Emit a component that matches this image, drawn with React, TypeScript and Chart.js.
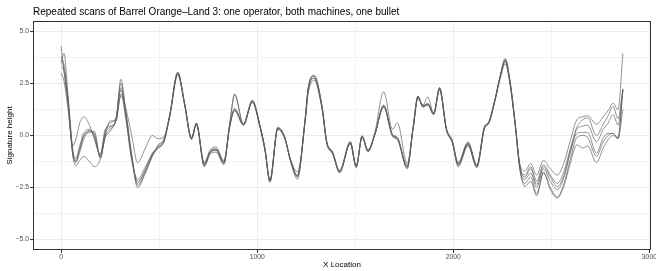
import React, { useEffect, useRef } from "react";
import { Chart, registerables } from "chart.js";

Chart.register(...registerables);

const titleText = "Repeated scans of Barrel Orange–Land 3: one operator, both machines, one bullet";
const xAxisTitle = "X Location";
const yAxisTitle = "Signature height";

const xTicks = [0, 500, 1000, 1500, 2000, 2500, 3000];
const yTicks = [-5, -3.75, -2.5, -1.25, 0, 1.25, 2.5, 3.75, 5];
const xRange = [-143.25, 3008.25];
const yRange = [-5.5, 5.5];

const xLocation = [
  0, 15, 35, 60, 75, 95, 115, 145, 170, 200,
  225, 250, 280, 305, 330, 360, 390, 430, 465, 495,
  525, 555, 595, 630, 665, 690, 730, 760, 790, 830,
  860, 885, 930, 975, 1015, 1040, 1065, 1105, 1140, 1170,
  1205, 1245, 1260, 1290, 1330, 1355, 1385, 1420, 1475, 1505,
  1535, 1565, 1600, 1645, 1690, 1715, 1765, 1795, 1820, 1845,
  1870, 1900, 1930, 1965, 1995, 2025, 2075, 2120, 2160, 2180,
  2210, 2240, 2265, 2290, 2315, 2340, 2365, 2395, 2425, 2460,
  2495, 2530, 2565, 2595, 2630, 2660, 2685, 2730, 2765, 2790,
  2815, 2840, 2865,
];

const scan1 = [
  4.3, 3.0, 1.5, -0.9, -1.3, -0.8, -0.2, 0.25, 0.0, -1.05,
  0.1, 0.4, 0.75, 2.7, 1.2, -0.9, -2.5, -1.8, -1.0, -0.6,
  -0.3, 1.0, 3.05, 1.55, -0.1, 0.6, -1.45, -0.85, -0.7, -1.35,
  0.6, 2.0, 0.55, 1.65, 0.4, -0.7, -2.25, 0.35, -0.1, -1.25,
  -2.1, 0.8, 2.3, 2.9, 1.45, -0.35, -0.85, -1.75, -0.35, -1.5,
  -0.05, -0.75, 0.05, 1.45, 0.0, -0.15, -1.55, 0.35, 1.9, 1.4,
  1.5, 1.0, 2.3, 0.3, -0.3, -1.5, -0.45, -1.55, 0.4, 0.6,
  1.6, 2.9, 3.7, 2.6, 0.6, -1.4, -1.7, -1.35, -1.9, -1.2,
  -1.6, -1.9, -1.3, -0.3, 0.75, 0.9, 0.95, 0.55, 0.9, 1.2,
  1.55, 1.25, 3.95,
];

const scan2 = [
  3.5, 3.95, 2.0, -0.7, -1.1, -0.5, 0.1, 0.3, -0.1, -0.95,
  0.2, 0.6, 0.85, 2.3, 1.0, -1.0, -2.3, -1.6, -0.85, -0.55,
  -0.25, 1.05, 2.95, 1.5, -0.15, 0.55, -1.4, -0.8, -0.65, -1.3,
  0.55, 1.95, 0.5, 1.7, 0.45, -0.65, -2.2, 0.35, -0.1, -1.2,
  -1.95, 0.85, 2.25, 2.85, 1.4, -0.3, -0.8, -1.7, -0.3, -1.45,
  -0.05, -0.7, 0.1, 1.4, 0.05, -0.1, -1.45, 0.4, 1.85, 1.45,
  1.5, 1.1, 2.25, 0.35, -0.25, -1.35, -0.35, -1.45, 0.45, 0.6,
  1.6, 2.85, 3.6, 2.5, 0.65, -1.5, -1.9, -1.5, -2.2, -1.4,
  -1.9, -2.3, -1.7, -0.7, 0.4, 0.75, 0.85, 0.0, 0.55, 0.95,
  1.4, 0.8, 2.25,
];

const scan3 = [
  3.0, 2.6, 1.3, -0.5, -0.2, 0.6, 0.9, 0.5, -0.2, -0.9,
  0.3, 0.45, 0.7, 1.9, 1.3, 0.0, -1.3, -0.6, 0.0, -0.15,
  -0.05, 0.95, 2.9, 1.45, -0.2, 0.5, -1.3, -0.7, -0.55, -1.2,
  0.4, 1.2, 0.5, 1.6, 0.35, -0.75, -2.1, 0.3, -0.15, -1.15,
  -1.75, 0.7, 2.0, 2.65, 1.3, -0.4, -0.9, -1.7, -0.4, -1.45,
  -0.1, -0.8, 0.15, 2.1, 0.3, 0.6, -1.35, 0.3, 1.8, 1.45,
  1.85, 1.05, 2.2, 0.25, -0.35, -1.3, -0.3, -1.4, 0.35, 0.55,
  1.55, 2.75, 3.45, 2.4, 0.55, -1.6, -2.1, -1.8, -2.5, -1.6,
  -2.2, -2.6, -2.0, -0.9, 0.1, 0.15, 0.15, -0.85, -0.1, 0.1,
  0.1, -0.1, 2.2,
];

const scan4 = [
  3.6, 3.2, 1.6, -1.0, -1.45, -1.2, -1.0, -1.25, -1.5, -1.15,
  -0.1, 0.2, 0.8, 2.2, 0.9, -1.1, -2.1, -1.5, -0.9, -0.6,
  -0.3, 1.0, 3.0, 1.5, -0.15, 0.55, -1.5, -0.9, -0.8, -1.4,
  0.45, 1.25, 0.55, 1.65, 0.4, -0.7, -2.2, 0.4, -0.05, -1.2,
  -2.0, 0.8, 2.2, 2.75, 1.4, -0.35, -0.85, -1.8, -0.35, -1.55,
  0.0, -0.75, 0.05, 1.35, -0.05, -0.2, -1.6, 0.35, 1.85, 1.35,
  1.45, 1.0, 2.25, 0.3, -0.3, -1.45, -0.5, -1.5, 0.4, 0.65,
  1.65, 2.85, 3.6, 2.5, 0.6, -1.7, -2.3, -2.0, -2.8, -1.75,
  -2.5, -2.95, -2.3, -1.2, -0.1, 0.0, -0.1, -1.0, -0.3, 0.0,
  0.1, -0.15, 2.2,
];

const scan5 = [
  3.3, 3.1, 1.7, -0.8, -1.2, -0.6, 0.0, 0.2, 0.1, -1.0,
  0.0, 0.7, 0.7, 2.0, 0.8, -1.2, -2.2, -1.7, -0.95, -0.5,
  -0.2, 1.0, 3.0, 1.5, -0.1, 0.55, -1.4, -0.8, -0.7, -1.3,
  0.45, 1.2, 0.5, 1.6, 0.4, -0.7, -2.15, 0.3, -0.1, -1.2,
  -1.9, 0.75, 2.15, 2.75, 1.35, -0.35, -0.85, -1.75, -0.4, -1.5,
  -0.05, -0.7, 0.05, 1.4, 0.0, -0.15, -1.5, 0.3, 1.8, 1.4,
  1.5, 1.05, 2.2, 0.3, -0.3, -1.4, -0.4, -1.5, 0.4, 0.6,
  1.6, 2.85, 3.55, 2.5, 0.6, -1.55, -2.45, -2.2, -2.9, -1.8,
  -2.6, -3.0, -2.4, -1.4, -0.45, -0.6, -0.5, -1.3, -0.6, -0.2,
  0.0, -0.15, 1.25,
];

const scan6 = [
  3.8, 3.4, 1.8, -0.9, -1.25, -0.7, -0.05, 0.15, 0.2, -1.1,
  -0.05, 0.3, 0.75, 2.5, 1.1, -1.0, -2.4, -1.75, -1.0, -0.45,
  -0.15, 1.05, 3.0, 1.55, -0.15, 0.6, -1.35, -0.75, -0.65, -1.25,
  0.5, 1.3, 0.55, 1.65, 0.45, -0.65, -2.2, 0.35, -0.1, -1.15,
  -1.95, 0.8, 2.25, 2.85, 1.45, -0.3, -0.8, -1.7, -0.3, -1.5,
  -0.05, -0.75, 0.05, 1.45, 0.05, -0.1, -1.5, 0.4, 1.9, 1.4,
  1.55, 1.05, 2.3, 0.3, -0.25, -1.35, -0.4, -1.45, 0.45, 0.6,
  1.6, 2.9, 3.65, 2.55, 0.65, -1.5, -2.0, -1.6, -2.35, -1.5,
  -2.0, -2.45, -1.9, -0.8, 0.3, 0.45, 0.5, -0.3, 0.3, 0.6,
  1.0, 0.5, 2.2,
];

const scans = [scan1, scan2, scan3, scan4, scan5, scan6];

const FONT = '"Liberation Sans", Arial, Helvetica, sans-serif';
const isMajorX = (v: number) => Math.abs(v % 1000) < 1e-6;
const isMajorY = (v: number) => Math.abs(v % 2.5) < 1e-6;

const frameAndTitle = {
  id: "frameAndTitle",
  afterDraw(chart: any) {
    const { ctx, chartArea } = chart;
    ctx.save();
    ctx.strokeStyle = "#333333";
    ctx.lineWidth = 1;
    ctx.strokeRect(
      Math.round(chartArea.left) + 0.5,
      Math.round(chartArea.top) + 0.5,
      Math.round(chartArea.right - chartArea.left) - 1,
      Math.round(chartArea.bottom - chartArea.top) - 1
    );
    ctx.fillStyle = "#000000";
    ctx.font = `10px ${FONT}`;
    ctx.textBaseline = "middle";
    ctx.textAlign = "left";
    ctx.fillText(titleText, chartArea.left, 12.5);
    ctx.restore();
  },
};

export default function App() {
  const canvasRef = useRef<HTMLCanvasElement | null>(null);

  useEffect(() => {
    document.body.style.margin = "0";
    const canvas = canvasRef.current;
    if (!canvas) return;
    const chart = new Chart(canvas, {
      type: "line",
      data: {
        datasets: scans.map((s, i) => ({
          label: `scan ${i + 1}`,
          data: xLocation.map((x, j) => ({ x, y: s[j] })),
          borderColor: "rgba(95,95,95,0.68)",
          borderWidth: 1,
          pointRadius: 0,
          cubicInterpolationMode: "monotone" as const,
          fill: false,
        })),
      },
      options: {
        animation: false,
        responsive: false,
        devicePixelRatio: 1,
        layout: { padding: { left: 0, top: 21, right: 21, bottom: 0 } },
        plugins: {
          legend: { display: false },
          tooltip: { enabled: false },
          title: { display: false },
        },
        scales: {
          x: {
            type: "linear",
            min: xRange[0],
            max: xRange[1],
            afterBuildTicks: (scale: any) => {
              scale.ticks = xTicks.map((v) => ({ value: v }));
            },
            afterFit: (scale: any) => {
              scale.height = 21;
            },
            ticks: {
              autoSkip: false,
              maxRotation: 0,
              padding: 0,
              color: "#4d4d4d",
              font: { family: FONT, size: 6.8 },
              callback: (v: any) => (isMajorX(Number(v)) ? String(v) : ""),
            },
            grid: {
              color: (c: any) => (c.tick && isMajorX(c.tick.value) ? "#ebebeb" : "#f2f2f2"),
              lineWidth: 1,
              tickLength: 3,
              tickColor: (c: any) => (c.tick && isMajorX(c.tick.value) ? "#333333" : "rgba(0,0,0,0)"),
            },
            border: { display: false },
            title: {
              display: true,
              text: xAxisTitle,
              color: "#000000",
              font: { family: FONT, size: 8 },
              padding: { top: 0, bottom: 1.2 },
            },
          },
          y: {
            type: "linear",
            min: yRange[0],
            max: yRange[1],
            afterBuildTicks: (scale: any) => {
              scale.ticks = yTicks.map((v) => ({ value: v }));
            },
            afterFit: (scale: any) => {
              scale.width = 33;
            },
            ticks: {
              autoSkip: false,
              padding: 1,
              color: "#4d4d4d",
              font: { family: FONT, size: 6.8 },
              callback: (v: any) =>
                isMajorY(Number(v)) ? Number(v).toFixed(1).replace("-", "\u2212") : "",
            },
            grid: {
              color: (c: any) => (c.tick && isMajorY(c.tick.value) ? "#ebebeb" : "#f2f2f2"),
              lineWidth: 1,
              tickLength: 3,
              tickColor: (c: any) => (c.tick && isMajorY(c.tick.value) ? "#333333" : "rgba(0,0,0,0)"),
            },
            border: { display: false },
            title: {
              display: true,
              text: yAxisTitle,
              color: "#000000",
              font: { family: FONT, size: 8 },
              padding: { top: 5.2, bottom: 0 },
            },
          },
        },
      },
      plugins: [frameAndTitle],
    });
    return () => chart.destroy();
  }, []);

  return (
    <div style={{ width: 656, height: 271, overflow: "hidden", position: "relative", background: "#ffffff" }}>
      <canvas ref={canvasRef} width={672} height={271} style={{ display: "block", width: 672, height: 271 }} />
    </div>
  );
}
